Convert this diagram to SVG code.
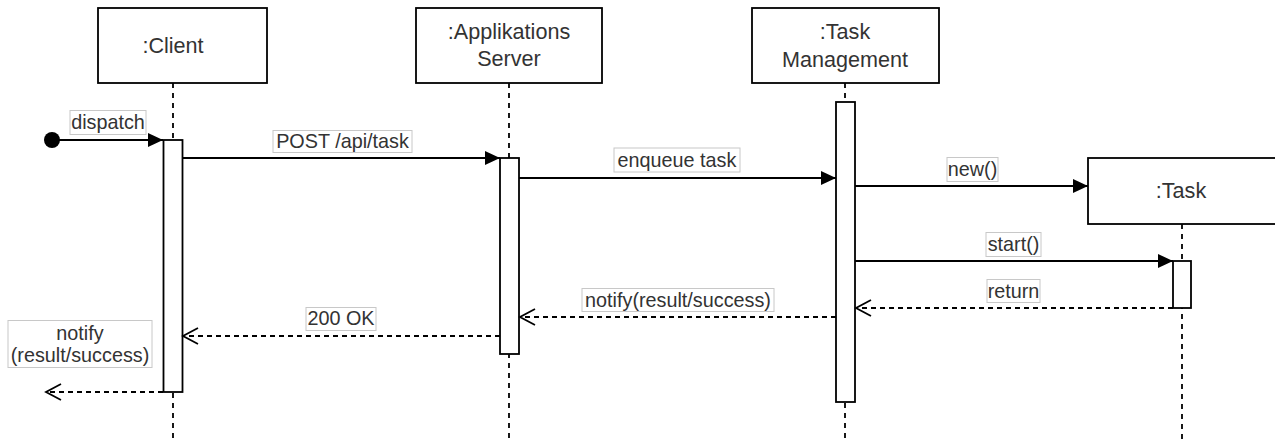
<svg xmlns="http://www.w3.org/2000/svg" width="1275" height="441" viewBox="0 0 1275 441">
<style>
.box{fill:#fff;stroke:#000;stroke-width:1.8}
.act{fill:#fff;stroke:#000;stroke-width:1.8}
.life{stroke:#000;stroke-width:1.8;stroke-dasharray:5 5;fill:none}
.msg{stroke:#000;stroke-width:1.8;fill:none}
.ret{stroke:#000;stroke-width:1.8;fill:none;stroke-dasharray:5 4}
.t{font-family:"Liberation Sans",Arial,sans-serif;font-size:21.6px;fill:#333;text-anchor:middle}
.l{font-family:"Liberation Sans",Arial,sans-serif;font-size:19.8px;fill:#333;text-anchor:middle}
.lb{fill:#fff;stroke:#c8c8c8;stroke-width:1}
</style>
<defs>
<marker id="fill" markerWidth="16" markerHeight="16" viewBox="0 0 16 16" refX="15" refY="8" orient="auto" markerUnits="userSpaceOnUse">
<path d="M0,1 L15,8 L0,15 Z" fill="#000"/>
</marker>
<marker id="open" markerWidth="18" markerHeight="18" viewBox="0 0 18 18" refX="16" refY="9" orient="auto" markerUnits="userSpaceOnUse">
<path d="M1,1 L16,9 L1,17" fill="none" stroke="#000" stroke-width="1.8"/>
</marker>
</defs>

<g id="lifelines">
<line class="life" x1="173" y1="83" x2="173" y2="441"/>
<line class="life" x1="509" y1="83" x2="509" y2="441"/>
<line class="life" x1="845" y1="83" x2="845" y2="441"/>
<line class="life" x1="1182" y1="224" x2="1182" y2="441"/>
</g>

<g id="client">
<rect class="box" x="98" y="8" width="169" height="75"/>
<text class="t" x="173" y="53">:Client</text>
<rect class="act" x="163.5" y="140" width="19" height="252"/>
</g>

<g id="server">
<rect class="box" x="416" y="8" width="186" height="75"/>
<text class="t" x="509" y="39">:Applikations</text>
<text class="t" x="509" y="66">Server</text>
<rect class="act" x="500" y="158" width="19" height="196"/>
</g>

<g id="taskmanagement">
<rect class="box" x="752" y="8" width="187" height="75"/>
<text class="t" x="845" y="39">:Task</text>
<text class="t" x="845" y="67">Management</text>
<rect class="act" x="836" y="102" width="19" height="300"/>
</g>

<g id="task">
<rect class="box" x="1088" y="158" width="188" height="66"/>
<text class="t" x="1181" y="198">:Task</text>
<rect class="act" x="1173" y="261" width="18" height="47"/>
</g>

<g id="connectors">
<circle cx="52" cy="140" r="8" fill="#000"/>
<line class="msg" x1="52" y1="140" x2="163" y2="140" marker-end="url(#fill)"/>
<line class="msg" x1="182.5" y1="158" x2="500" y2="158" marker-end="url(#fill)"/>
<line class="msg" x1="519" y1="178" x2="836" y2="178" marker-end="url(#fill)"/>
<line class="msg" x1="855" y1="186" x2="1088" y2="186" marker-end="url(#fill)"/>
<line class="msg" x1="855" y1="261" x2="1173" y2="261" marker-end="url(#fill)"/>
<line class="ret" x1="1173" y1="308" x2="856" y2="308" marker-end="url(#open)"/>
<line class="ret" x1="836" y1="317" x2="520" y2="317" marker-end="url(#open)"/>
<line class="ret" x1="500" y1="336" x2="183" y2="336" marker-end="url(#open)"/>
<line class="ret" x1="163" y1="392" x2="46" y2="392" marker-end="url(#open)"/>
</g>

<g id="labels">
<rect class="lb" x="70" y="110.5" width="76" height="24"/>
<text class="l" x="108" y="129">dispatch</text>
<rect class="lb" x="273" y="130.5" width="139" height="22"/>
<text class="l" x="342.5" y="148">POST /api/task</text>
<rect class="lb" x="614" y="148" width="126" height="24"/>
<text class="l" x="677" y="167">enqueue task</text>
<rect class="lb" x="947" y="157.5" width="51" height="24"/>
<text class="l" x="972.5" y="176">new()</text>
<rect class="lb" x="986" y="232.5" width="55" height="24"/>
<text class="l" x="1013.5" y="251">start()</text>
<rect class="lb" x="987" y="279.5" width="53" height="23"/>
<text class="l" x="1013.5" y="298">return</text>
<rect class="lb" x="582" y="288.5" width="192" height="23"/>
<text class="l" x="678" y="307">notify(result/success)</text>
<rect class="lb" x="306" y="307.5" width="70" height="23"/>
<text class="l" x="341" y="325">200 OK</text>
<rect class="lb" x="8" y="320.5" width="144" height="47"/>
<text class="l" x="80" y="340">notify</text>
<text class="l" x="80" y="362">(result/success)</text>
</g>
</svg>
